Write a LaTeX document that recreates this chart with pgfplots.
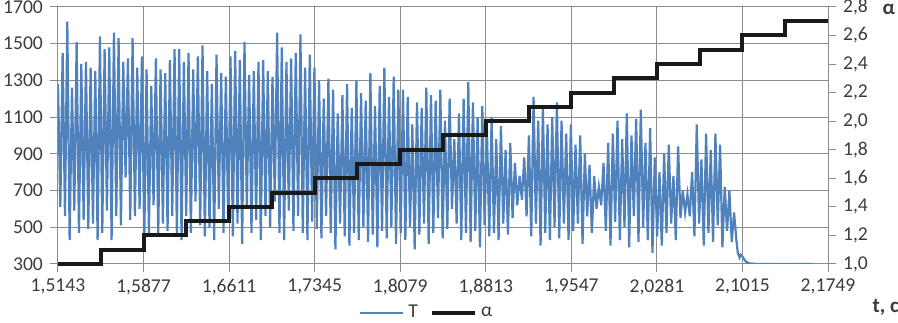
\documentclass[border=0pt]{standalone}
\usepackage{fontspec}
\setmainfont{Carlito}
\usepackage{pgfplots}
\pgfplotsset{compat=1.18}
\definecolor{tblue}{HTML}{4F81BD}
\definecolor{gridc}{HTML}{8C8C8C}
\definecolor{txt}{HTML}{3C3C3C}
\begin{document}
\begin{tikzpicture}
\pgfplotsset{
  myax/.style={scale only axis, width=385pt, height=128.5pt,
    xmin=1.5143, xmax=2.1749,
    /pgf/number format/assume math mode=true,
    tick label style={font=\fontsize{9.8}{11}\selectfont, text=txt},
    axis line style={gridc, line width=0.5pt},
    tick style={gridc, line width=0.5pt},
    tick align=outside, major tick length=4pt,
  }
}
\begin{axis}[myax,
  ymin=300, ymax=1700, ytick={300,500,700,900,1100,1300,1500,1700},
  /pgf/number format/1000 sep={},
  xtick={1.5143,1.5877,1.6611,1.7345,1.8079,1.8813,1.9547,2.0281,2.1015,2.1749},
  xticklabels={{1,5143},{1,5877},{1,6611},{1,7345},{1,8079},{1,8813},{1,9547},{2,0281},{2,1015},{2,1749}},
  xtick pos=left, ytick pos=left,
  grid=major, grid style={gridc, line width=0.5pt},
  legend image code/.code={\draw[#1] (0cm,0cm) -- (0.76cm,0cm);},
  legend style={at={(0.48,-0.19)}, anchor=center, draw=none, fill=none,
    legend columns=2, font=\fontsize{9.8}{11}\selectfont, text=txt,
    /tikz/every even column/.append style={column sep=4pt}},
]
\addplot[tblue, line width=1.1pt] coordinates {
(1.5143,1280)(1.5163,610)(1.5183,1450)(1.5203,560)(1.5223,1620)(1.5243,430)(1.5263,1260)(1.5283,590)(1.5303,1510)(1.5323,470)
(1.5343,1390)(1.5363,540)(1.5383,1400)(1.5403,490)(1.5423,1370)(1.5443,520)(1.5463,1350)(1.5483,430)(1.5503,1540)(1.5523,470)
(1.5543,1470)(1.5563,590)(1.5583,1480)(1.5603,430)(1.5623,1560)(1.5643,560)(1.5663,1530)(1.5683,510)(1.5703,1400)(1.5723,770)
(1.5743,1420)(1.5763,540)(1.5783,1530)(1.5803,560)(1.5823,1370)(1.5843,600)(1.5863,1430)(1.5883,410)(1.5903,1360)(1.5923,470)
(1.5943,1270)(1.5963,620)(1.5983,1420)(1.6003,450)(1.6023,1360)(1.6043,520)(1.6063,1340)(1.6083,480)(1.6103,1410)(1.6123,560)
(1.6143,1470)(1.6163,470)(1.6183,1470)(1.6203,430)(1.6223,1400)(1.6243,560)(1.6263,1450)(1.6283,470)(1.6303,1360)(1.6323,640)
(1.6343,1430)(1.6363,510)(1.6383,1490)(1.6403,450)(1.6423,1350)(1.6443,500)(1.6463,1280)(1.6483,430)(1.6503,1440)(1.6523,600)
(1.6543,1340)(1.6563,470)(1.6583,1320)(1.6603,530)(1.6623,1430)(1.6643,450)(1.6663,1460)(1.6683,520)(1.6703,1410)(1.6723,410)
(1.6743,1510)(1.6763,600)(1.6783,1330)(1.6803,470)(1.6823,1350)(1.6843,540)(1.6863,1400)(1.6883,430)(1.6903,1410)(1.6923,560)
(1.6943,1350)(1.6963,500)(1.6983,1320)(1.7003,640)(1.7023,1560)(1.7043,470)(1.7063,1480)(1.7083,430)(1.7103,1400)(1.7123,590)
(1.7143,1420)(1.7163,480)(1.7183,1450)(1.7203,560)(1.7223,1550)(1.7243,470)(1.7263,1370)(1.7283,430)(1.7303,1440)(1.7323,530)
(1.7343,1370)(1.7363,490)(1.7383,1300)(1.7403,440)(1.7423,1200)(1.7443,560)(1.7463,1310)(1.7483,470)(1.7503,1250)(1.7523,380)
(1.7543,1120)(1.7563,520)(1.7583,1220)(1.7603,450)(1.7623,1280)(1.7643,400)(1.7663,1150)(1.7683,470)(1.7703,1300)(1.7723,430)
(1.7743,1230)(1.7763,500)(1.7783,1190)(1.7803,420)(1.7823,1340)(1.7843,460)(1.7863,1160)(1.7883,390)(1.7903,1270)(1.7923,480)
(1.7943,1370)(1.7963,440)(1.7983,1210)(1.8003,500)(1.8023,1320)(1.8043,410)(1.8063,1250)(1.8083,470)(1.8103,1250)(1.8123,430)
(1.8143,1210)(1.8163,500)(1.8183,1060)(1.8203,380)(1.8223,1180)(1.8243,460)(1.8263,1150)(1.8283,520)(1.8303,1260)(1.8323,410)
(1.8343,1220)(1.8363,470)(1.8383,1190)(1.8403,550)(1.8423,1250)(1.8443,440)(1.8463,1080)(1.8483,490)(1.8503,1200)(1.8523,600)
(1.8543,980)(1.8563,520)(1.8583,1120)(1.8603,430)(1.8623,1200)(1.8643,470)(1.8663,1290)(1.8683,420)(1.8703,1180)(1.8723,480)
(1.8743,1100)(1.8763,390)(1.8783,1160)(1.8803,510)(1.8823,1030)(1.8843,450)(1.8863,1100)(1.8883,470)(1.8903,980)(1.8923,430)
(1.8943,1050)(1.8963,520)(1.8983,920)(1.9003,460)(1.9023,960)(1.9043,550)(1.9063,850)(1.9083,620)(1.9103,780)(1.9123,650)
(1.9143,880)(1.9163,560)(1.9183,1000)(1.9203,450)(1.9223,1210)(1.9243,520)(1.9263,1080)(1.9283,400)(1.9303,1150)(1.9323,470)
(1.9343,1060)(1.9363,430)(1.9383,1100)(1.9403,500)(1.9423,1180)(1.9443,440)(1.9463,1080)(1.9483,520)(1.9503,1010)(1.9523,430)
(1.9543,1060)(1.9563,480)(1.9583,950)(1.9603,520)(1.9623,1000)(1.9643,410)(1.9663,900)(1.9683,560)(1.9703,840)(1.9723,470)
(1.9743,780)(1.9763,600)(1.9783,720)(1.9803,620)(1.9823,850)(1.9843,480)(1.9863,960)(1.9883,400)(1.9903,1010)(1.9923,530)
(1.9943,1080)(1.9963,430)(1.9983,980)(2.0003,500)(2.0023,1120)(2.0043,390)(2.0063,1000)(2.0083,560)(2.0103,1090)(2.0123,420)
(2.0143,1140)(2.0163,500)(2.0183,960)(2.0203,430)(2.0223,1040)(2.0243,360)(2.0263,880)(2.0283,450)(2.0303,800)(2.0323,400)
(2.0343,900)(2.0363,470)(2.0383,950)(2.0403,520)(2.0423,780)(2.0443,430)(2.0463,940)(2.0483,550)(2.0503,700)(2.0523,580)
(2.0543,680)(2.0563,560)(2.0583,800)(2.0603,450)(2.0623,1060)(2.0643,520)(2.0663,870)(2.0683,400)(2.0703,1010)(2.0723,470)
(2.0743,920)(2.0763,420)(2.0783,1010)(2.0803,510)(2.0823,950)(2.0843,390)(2.0863,720)(2.0883,480)(2.0903,700)(2.0923,420)
(2.0943,580)(2.0963,430)
(2.0975,360)(2.0990,335)(2.1000,350)(2.1010,345)(2.1025,330)(2.1045,312)(2.1070,304)(2.1100,301)(2.1150,300)(2.1612,300)
};
\addlegendentry{T}
\addlegendimage{black!90, line width=2pt}
\addlegendentry{α}
\coordinate (BL) at (rel axis cs:-0.0753,-0.2296);
\coordinate (TR) at (rel axis cs:1.0909,1.027);
\end{axis}
\begin{axis}[myax, clip=false,
  ymin=1, ymax=2.8,
  axis y line*=right, axis x line=none,
  ytick={1,1.2,1.4,1.6,1.8,2,2.2,2.4,2.6,2.8},
  yticklabels={{1,0},{1,2},{1,4},{1,6},{1,8},{2,0},{2,2},{2,4},{2,6},{2,8}},
]
\addplot[const plot, black!90, line width=2pt] coordinates {
(1.5143,1.0)(1.5510,1.1)(1.5877,1.2)(1.6244,1.3)(1.6611,1.4)(1.6978,1.5)(1.7345,1.6)(1.7712,1.7)(1.8079,1.8)(1.8446,1.9)(1.8813,2.0)(1.9180,2.1)(1.9547,2.2)(1.9914,2.3)(2.0281,2.4)(2.0648,2.5)(2.1015,2.6)(2.1382,2.7)(2.1749,2.7)
};
\node[font=\bfseries\fontsize{10.5}{12}\selectfont, text=txt] at (rel axis cs:1.075,-0.167) {t, c};
\node[font=\bfseries\fontsize{10.5}{12}\selectfont, text=txt] at (rel axis cs:1.079,0.99) {α};
\end{axis}
\pgfresetboundingbox
\useasboundingbox (BL) rectangle (TR);
\end{tikzpicture}
\end{document}
